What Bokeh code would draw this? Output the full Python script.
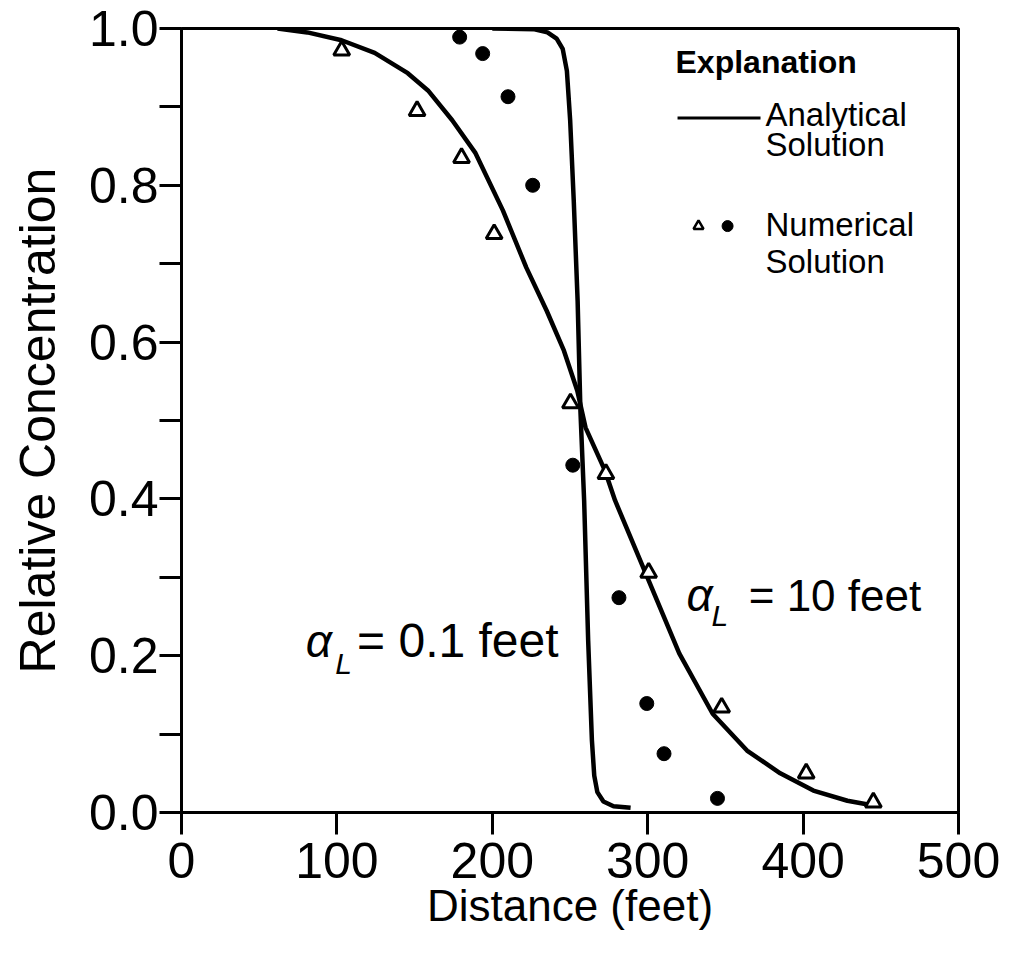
from bokeh.plotting import figure
from bokeh.models import Range1d, FixedTicker, NumeralTickFormatter, Label
from bokeh.embed import file_html
from bokeh.resources import INLINE

# ---- data ----
# analytical solution, alpha_L = 10 feet
an10_x = [61.8, 81, 103, 124.3, 145.6, 158.6, 174.2, 189.2, 206.8, 221.9, 235, 246.1,
          254.7, 260, 272.5, 279, 298.7, 320.3, 341.8, 363.9, 385.3, 406.6, 428.5, 445.3]
an10_y = [1.0, 0.995, 0.985, 0.969, 0.943, 0.921, 0.883, 0.841, 0.768, 0.695, 0.640, 0.589,
          0.538, 0.491, 0.436, 0.398, 0.305, 0.203, 0.126, 0.079, 0.050, 0.028, 0.015, 0.009]
# analytical solution, alpha_L = 0.1 feet
an01_x = [200, 227.2, 235.5, 241.4, 245.3, 248, 250.1, 252.4, 254.9, 256.7, 259.1, 261.7,
          264.1, 265.6, 267.6, 271.5, 278, 289]
an01_y = [1.0, 0.999, 0.995, 0.987, 0.974, 0.946, 0.883, 0.781, 0.653, 0.513, 0.398, 0.219,
          0.092, 0.047, 0.026, 0.014, 0.008, 0.006]
# numerical solution, alpha_L = 10 feet (triangles)
num10_x = [103.1, 151.6, 180.2, 201.2, 250.3, 273.1, 300.6, 347.6, 402, 445.2]
num10_y = [0.972, 0.895, 0.835, 0.738, 0.522, 0.432, 0.306, 0.134, 0.050, 0.013]
# numerical solution, alpha_L = 0.1 feet (dots)
num01_x = [179, 193.8, 210.1, 226, 251.8, 281.5, 299.4, 310.5, 344.9]
num01_y = [0.989, 0.968, 0.913, 0.80, 0.443, 0.274, 0.139, 0.075, 0.018]

x_ticks = [0, 100, 200, 300, 400, 500]
y_ticks = [0.0, 0.2, 0.4, 0.6, 0.8, 1.0]
y_minor = [0.1, 0.3, 0.5, 0.7, 0.9]

FONT = "Liberation Sans"

p = figure(width=1010, height=956, x_range=Range1d(0, 500), y_range=Range1d(0, 1),
           output_backend="svg", toolbar_location=None,
           min_border_left=181, min_border_right=52, min_border_top=28, min_border_bottom=144)
p.grid.visible = False
p.outline_line_color = "black"
p.outline_line_width = 3
p.background_fill_color = "white"
p.border_fill_color = "white"

for ax in (p.xaxis[0], p.yaxis[0]):
    ax.axis_line_width = 3
    ax.axis_line_color = "black"
    ax.major_tick_line_width = 3
    ax.major_tick_line_color = "black"
    ax.major_tick_out = 22
    ax.major_tick_in = 0
    ax.major_label_text_font = FONT
    ax.major_label_text_font_size = "50px"
    ax.major_label_text_color = "black"
    ax.axis_label_text_font = FONT
    ax.axis_label_text_font_style = "normal"
    ax.axis_label_text_color = "black"

p.xaxis.ticker = FixedTicker(ticks=x_ticks)
p.xaxis.minor_tick_line_color = None
p.xaxis.major_label_standoff = 8
p.xaxis.axis_label = "Distance (feet)"
p.xaxis.axis_label_text_font_size = "44px"
p.xaxis.axis_label_standoff = 0

p.yaxis.ticker = FixedTicker(ticks=y_ticks, minor_ticks=y_minor)
p.yaxis.formatter = NumeralTickFormatter(format="0.0")
p.yaxis.minor_tick_line_width = 3
p.yaxis.minor_tick_line_color = "black"
p.yaxis.minor_tick_out = 22
p.yaxis.minor_tick_in = 0
p.yaxis.major_label_standoff = 1
p.yaxis.axis_label = "Relative Concentration"
p.yaxis.axis_label_text_font_size = "50px"
p.yaxis.axis_label_standoff = 20

# curves
p.line(an10_x, an10_y, line_color="black", line_width=4.5)
p.line(an01_x, an01_y, line_color="black", line_width=4.5)
p.scatter(num10_x, num10_y, marker="triangle", size=16, fill_color="white",
          line_color="black", line_width=3)
p.scatter(num01_x, num01_y, marker="circle", size=14, fill_color="black", line_color="black")

# legend ("Explanation") drawn by hand
def lab(x, y, text, size, style="normal"):
    p.add_layout(Label(x=x, y=y, text=text, text_font=FONT, text_font_size=size,
                       text_font_style=style, text_color="black", text_baseline="alphabetic"))

lab(317.9, 0.957, "Explanation", "32px", "bold")
p.line([319.2, 372.6], [0.886, 0.886], line_color="black", line_width=3)
lab(375.8, 0.890, "Analytical", "33px")
lab(375.8, 0.852, "Solution", "33px")
p.scatter([332.7], [0.748], marker="triangle", size=10, fill_color="white",
          line_color="black", line_width=2.5)
p.scatter([351.4], [0.748], marker="circle", size=11, fill_color="black", line_color="black")
lab(375.8, 0.750, "Numerical", "33px")
lab(375.8, 0.703, "Solution", "33px")

# curve annotations
def alpha_label(xa, ya, xl, yl, xt, text, size):
    lab(xa, ya, "\u03b1", "46px", "italic")
    lab(xl, yl, "L", "30px", "italic")
    lab(xt, ya, text, size)

alpha_label(325.0, 0.277, 341.0, 0.251, 365.0, "= 10 feet", "44px")
alpha_label(80.0, 0.219, 99.0, 0.190, 113.0, "= 0.1 feet", "48px")

open("out.html", "w").write(file_html(p, INLINE))
